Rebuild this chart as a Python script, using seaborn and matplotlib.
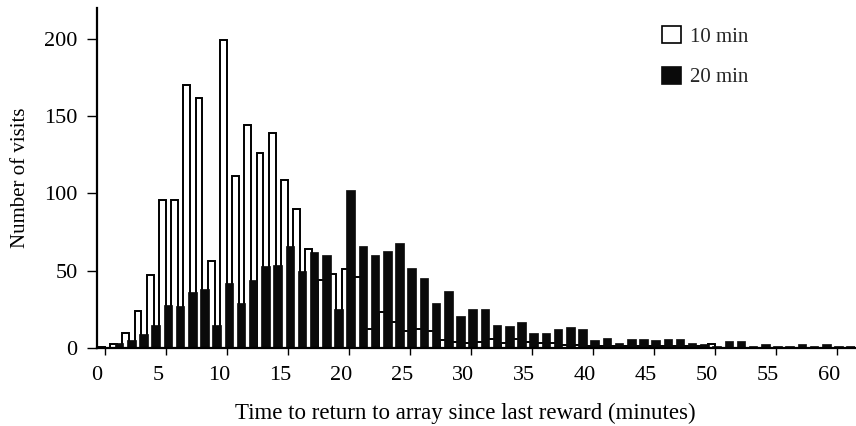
import matplotlib
matplotlib.use("Agg")
import matplotlib.pyplot as plt
from matplotlib.transforms import ScaledTranslation
from matplotlib.patches import Patch
import pandas as pd
import seaborn as sns

# ---- data ----
minutes = list(range(62))
visits_10min = [0.5, 2.4, 10, 24, 47, 96, 96, 170, 162, 56,
                199, 111, 144, 126, 139, 109, 90, 64, 44, 48,
                51, 46, 12, 23, 17, 11, 12, 11, 5, 4,
                3, 4, 6, 3, 6, 4, 3, 3, 2, 2,
                1, 1, 1, 1, 1, 1, 1, 1, 1, 1,
                2.4, 0, 0, 0, 0, 0, 0, 0, 0, 0,
                0, 0]
visits_20min = [0, 3, 5, 9, 15, 28, 27, 36, 38, 15,
                42, 29, 44, 53, 54, 66, 50, 62, 60, 25,
                102, 66, 60, 63, 68, 52, 45, 29, 37, 21,
                25, 25, 15, 14, 17, 10, 10, 12.5, 13.6, 12.5,
                5, 6.7, 3.5, 5.6, 5.6, 5, 5.6, 5.6, 3.5, 2.8,
                1, 4.3, 4.3, 1, 2.4, 1, 1, 2.8, 1, 2.4,
                1, 1]
series_labels = ["10 min", "20 min"]
x_ticks = list(range(0, 61, 5))
y_ticks = [0, 50, 100, 150, 200]

sns.set_theme(style="ticks")
plt.rcParams['font.family'] = ['Liberation Serif', 'DejaVu Serif']

fig = plt.figure(figsize=(8.56, 4.26), dpi=100)
ax = fig.add_axes([97 / 856, 78 / 426, (855 - 97) / 856, 340 / 426])

df10 = pd.DataFrame({"minute": minutes, "visits": visits_10min})
df20 = pd.DataFrame({"minute": minutes, "visits": visits_20min})

sns.barplot(data=df10, x="minute", y="visits", native_scale=True, width=0.55,
            color="white", edgecolor="black", linewidth=1.4, saturation=1,
            errorbar=None, ax=ax)
n10 = len(ax.patches)
for p in ax.patches:
    p.set_x(p.get_x() - 0.295)
sns.barplot(data=df20, x="minute", y="visits", native_scale=True, width=0.7,
            color="#0a0a0a", edgecolor="#0a0a0a", linewidth=0.5, saturation=1,
            errorbar=None, ax=ax)
for p in ax.patches[n10:]:
    p.set_x(p.get_x() + 0.15)

ax.set_xlim(-0.66, 61.5)
ax.set_ylim(0, 220)
ax.set_xticks(x_ticks)
ax.set_yticks(y_ticks)
ax.set_xticklabels([str(t) for t in x_ticks])
ax.set_yticklabels([str(t) for t in y_ticks])

for s in ["top", "right"]:
    ax.spines[s].set_visible(False)
for s in ["left", "bottom"]:
    ax.spines[s].set_linewidth(1.6)
    ax.spines[s].set_color("black")

ax.tick_params(axis="x", direction="out", length=5, width=1, labelsize=16, pad=8, colors="black")
ax.tick_params(axis="y", direction="out", length=7, width=1, labelsize=16, pad=7, colors="black")

offset = ScaledTranslation(-8 / 100, 0, fig.dpi_scale_trans)
for lab in ax.get_xticklabels():
    lab.set_transform(lab.get_transform() + offset)

ax.set_xlabel("Time to return to array since last reward (minutes)", fontsize=16.5,
              color="black", labelpad=12)
ax.xaxis.set_label_coords(0.4855, -0.16)
ax.set_ylabel("Number of visits", fontsize=15, color="black", labelpad=10)

handles = [Patch(facecolor="white", edgecolor="black", linewidth=1.2, label=series_labels[0]),
           Patch(facecolor="#0a0a0a", edgecolor="#0a0a0a", linewidth=1.2, label=series_labels[1])]
fig.legend(handles=handles, loc="upper left", bbox_to_anchor=(662 / 856, 1 - 26 / 426),
           frameon=False, handlelength=0.9, handleheight=0.9, handletextpad=0.45,
           labelspacing=0.95, borderpad=0, borderaxespad=0, fontsize=15)

fig.savefig("out.png", dpi=100, facecolor="white")
